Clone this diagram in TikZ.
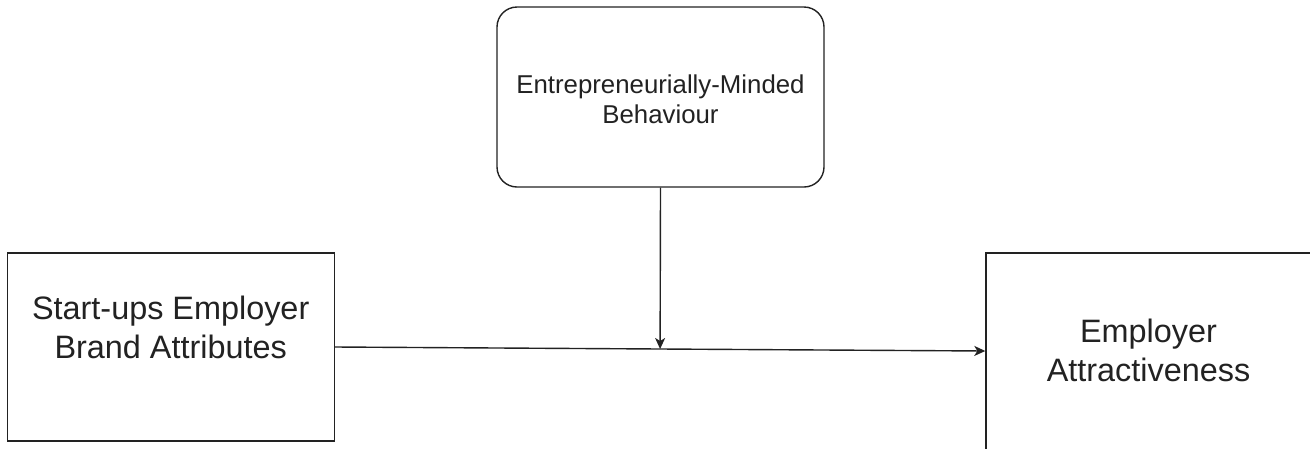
\documentclass[tikz,border=0pt]{standalone}
\usepackage{fontspec}
\setmainfont{Liberation Sans}
\usetikzlibrary{arrows.meta}
\definecolor{ink}{HTML}{222222}
\begin{document}
\begin{tikzpicture}[x=1pt,y=-1pt,
  box/.style={draw=ink, line width=1.4pt, fill=white, inner sep=0pt},
  bigtext/.style={text=ink, font=\fontsize{32.4}{39}\selectfont, align=center},
  smalltext/.style={text=ink, font=\fontsize{25.8}{30}\selectfont, align=center},
  link/.style={draw=ink, line width=1.4pt, -{Stealth[length=11pt,width=10pt,inset=3pt]}}]
  \useasboundingbox (0,0) rectangle (1310,448);
  \clip (0,0) rectangle (1310,448);
  % moderator
  \node[box, rounded corners=20pt, minimum width=327pt, minimum height=180pt,
        label={[smalltext, yshift=-2.5pt]center:{Entrepreneurially-Minded\\Behaviour}}]
        (mb) at (660.5,97) {};
  % independent variable
  \node[box, minimum width=327pt, minimum height=188pt,
        label={[bigtext, yshift=20pt]center:{Start-ups Employer\\Brand Attributes}}]
        (sb) at (170.7,347) {};
  % dependent variable
  \node[box, minimum width=325pt, minimum height=234pt,
        label={[bigtext, yshift=20pt]center:{Employer\\Attractiveness}}]
        (ea) at (1148.5,370) {};
  % main path with its midpoint
  \draw[link] (sb.east) -- coordinate[pos=0.5] (m) ([yshift=19pt]ea.west);
  % moderating effect
  \draw[link] (mb.south) -- (m);
\end{tikzpicture}
\end{document}
